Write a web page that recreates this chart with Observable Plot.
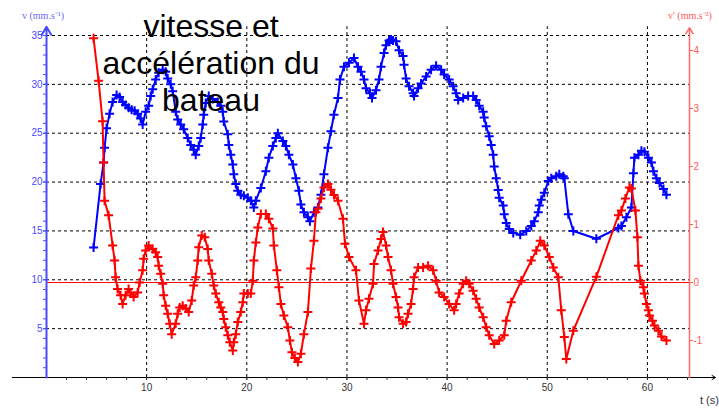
<!DOCTYPE html>
<html>
<head>
<meta charset="utf-8">
<script src="https://cdn.jsdelivr.net/npm/d3@7"></script>
<script src="https://cdn.jsdelivr.net/npm/@observablehq/plot@0.6"></script>
<style>
  html, body { margin: 0; padding: 0; background: #fff; }
  #wrap { position: relative; width: 719px; height: 409px; overflow: hidden; }
  #wrap svg { position: absolute; left: 0; top: 0; }
  .ov { position: absolute; white-space: nowrap; }
  #title { left: 61px; top: 8px; width: 300px; text-align: center; font: 32px/37px "Liberation Sans", Arial, sans-serif; color: #000; }
  #vlab { left: 22px; top: 8px; font: 10px "Liberation Serif", serif; color: #6a6aff; }
  #alab { left: 668px; top: 8px; font: 10px "Liberation Serif", serif; color: #ff5a5a; }
  #tlab { left: 700px; top: 394px; font: 11px "Liberation Sans", sans-serif; color: #333; }
</style>
</head>
<body>
<div id="wrap">
  <div id="title" class="ov">vitesse et<br>accélération du<br>bateau</div>
  <div id="vlab" class="ov">v (mm.s⁻¹)</div>
  <div id="alab" class="ov">v' (mm.s⁻²)</div>
  <div id="tlab" class="ov">t (s)</div>
</div>
<script>
// ---- speed v (mm/s), left axis ----
const tV = [4.7,5.4,5.7,5.8,6.0,6.3,6.6,7.0,7.3,7.6,7.9,8.2,8.5,8.8,9.1,9.4,9.6,9.9,10.2,10.4,10.6,10.9,11.2,11.6,11.9,12.1,12.4,12.6,12.9,13.1,13.4,13.7,14.1,14.4,14.7,14.9,15.2,15.4,15.6,15.7,15.9,16.2,16.6,17.1,17.4,17.6,17.7,18.1,18.2,18.4,18.6,18.7,18.9,19.1,19.4,19.7,20.1,20.4,20.7,20.9,21.4,21.9,22.2,22.6,22.9,23.1,23.6,23.9,24.2,24.6,24.9,25.2,25.4,25.7,26.1,26.3,26.7,27.1,27.4,27.7,28.1,28.4,28.7,29.1,29.3,29.7,30.2,30.7,31.1,31.4,31.7,31.9,32.3,32.5,32.9,33.2,33.4,33.7,33.9,34.2,34.4,34.6,34.9,35.2,35.6,35.7,35.9,36.2,36.6,36.7,37.1,37.4,37.9,38.4,38.9,39.4,39.7,40.2,40.6,40.9,41.1,41.6,42.1,42.6,42.9,43.2,43.6,43.7,43.9,44.2,44.4,44.6,44.7,44.9,45.1,45.2,45.6,45.7,45.9,46.2,46.6,47.3,47.9,48.4,48.7,49.1,49.2,49.4,49.7,50.1,50.4,50.9,51.2,51.6,51.7,52.1,52.6,54.9,57.1,57.4,57.9,58.4,58.6,58.7,59.1,59.4,59.7,60.1,60.4,60.6,60.9,61.2,61.6,61.9];
const vV = [13.3,19.8,22.0,23.5,25.5,27.0,28.2,28.9,28.7,28.2,27.9,27.6,27.4,27.3,27.0,26.5,25.9,27.2,27.8,28.8,29.5,30.5,31.2,31.5,31.3,30.6,30.0,29.3,27.2,26.4,25.9,25.4,24.5,23.8,23.3,22.8,23.7,24.5,25.9,26.9,28.1,28.8,28.5,28.2,27.8,27.2,26.2,24.9,23.8,22.8,21.8,20.8,19.8,19.1,18.7,18.6,18.4,18.1,17.4,18.1,19.4,21.1,22.5,23.7,24.5,25.0,24.2,23.7,22.8,21.8,20.4,19.1,17.7,16.9,16.4,16.0,16.9,17.4,18.7,20.8,23.5,25.2,26.9,28.6,30.5,31.8,32.2,32.7,31.8,31.3,30.5,29.6,29.1,28.6,29.4,30.5,31.8,33.2,34.0,34.5,34.6,34.5,34.4,33.5,32.9,32.0,30.6,29.8,29.1,28.8,29.6,30.1,30.8,31.5,31.9,31.5,31.0,30.5,29.8,29.1,28.4,28.6,28.8,28.8,28.4,27.8,27.2,26.6,25.7,24.7,23.8,22.8,21.6,20.4,19.2,18.4,17.6,16.7,15.8,15.2,14.8,14.6,15.0,15.5,16.0,16.9,17.6,18.2,18.9,20.1,20.4,20.6,20.8,20.6,20.4,16.7,15.0,14.2,15.3,15.5,16.4,17.4,20.9,22.5,22.8,23.2,23.1,22.5,22.0,21.1,20.4,19.9,19.3,18.7];

// ---- acceleration v' (mm/s^2), right axis ----
const tA = [4.7,5.2,5.6,5.7,5.8,6.2,6.6,6.8,6.9,7.1,7.4,7.6,7.9,8.2,8.4,8.7,9.1,9.3,9.6,9.7,9.9,10.2,10.6,10.9,11.1,11.2,11.4,11.6,11.7,11.9,12.1,12.3,12.5,12.9,13.1,13.3,13.6,13.9,14.2,14.5,14.7,14.9,15.1,15.2,15.5,15.8,16.1,16.2,16.5,16.7,16.9,17.2,17.4,17.6,17.7,17.9,18.1,18.3,18.6,18.7,18.9,19.1,19.4,19.6,19.7,20.1,20.4,20.6,20.7,20.9,21.1,21.4,21.9,22.2,22.6,22.7,23.0,23.2,23.4,23.7,24.1,24.3,24.5,24.8,25.1,25.4,25.7,26.1,26.4,26.7,26.9,27.1,27.4,27.7,28.1,28.4,28.7,29.1,29.6,29.8,30.2,30.9,31.2,31.7,31.9,32.2,32.6,32.7,33.1,33.4,33.6,33.9,34.1,34.4,34.6,34.9,35.1,35.2,35.6,35.9,36.1,36.4,36.6,36.7,37.1,37.6,38.1,38.6,38.9,39.2,39.7,40.2,40.7,40.9,41.2,41.6,41.9,42.2,42.6,42.9,43.2,43.6,43.9,44.2,44.7,45.2,45.7,45.9,46.4,47.4,48.4,48.9,49.3,49.7,50.2,50.6,51.1,51.4,51.7,51.9,52.6,54.9,57.1,57.4,57.8,58.2,58.4,58.8,59.0,59.1,59.3,59.6,59.7,59.9,60.1,60.2,60.5,60.7,61.1,61.4,61.9];
const aA = [4.21,3.48,2.78,2.07,1.41,1.16,0.64,0.38,0.09,-0.11,-0.22,-0.37,-0.22,-0.11,-0.17,-0.25,-0.17,0.0,0.21,0.41,0.55,0.64,0.58,0.52,0.44,0.29,0.15,-0.02,-0.22,-0.40,-0.54,-0.71,-0.89,-0.71,-0.54,-0.43,-0.40,-0.45,-0.51,-0.31,-0.05,0.09,0.38,0.61,0.81,0.78,0.58,0.38,0.15,-0.05,-0.19,-0.34,-0.43,-0.51,-0.63,-0.77,-0.91,-1.03,-1.17,-1.03,-0.89,-0.68,-0.51,-0.34,-0.19,-0.19,-0.19,0.03,0.38,0.69,0.95,1.18,1.18,1.10,0.93,0.64,0.21,-0.08,-0.37,-0.57,-0.77,-1.0,-1.2,-1.3,-1.37,-1.23,-0.89,-0.51,0.24,0.72,1.21,1.27,1.45,1.64,1.70,1.60,1.51,1.41,1.10,0.67,0.44,0.21,-0.31,-0.71,-0.48,-0.28,-0.02,0.32,0.55,0.75,0.87,0.64,0.44,0.21,-0.02,-0.25,-0.43,-0.60,-0.71,-0.68,-0.54,-0.37,-0.11,0.09,0.26,0.26,0.29,0.21,0.03,-0.17,-0.25,-0.37,-0.48,-0.37,-0.19,-0.02,0.03,-0.02,-0.14,-0.28,-0.43,-0.60,-0.77,-0.91,-1.06,-1.00,-0.91,-0.66,-0.34,0.03,0.38,0.55,0.72,0.64,0.44,0.26,0.09,-0.48,-0.94,-1.32,-0.83,0.10,1.16,1.24,1.45,1.64,1.62,1.24,0.78,0.29,0.03,-0.08,-0.19,-0.37,-0.48,-0.57,-0.66,-0.74,-0.83,-0.93,-1.00];

// ---- tick values ----
const tMajor = [10, 20, 30, 40, 50, 60];
const tMinor = [2,4,6,8,10,12,14,16,18,20,22,24,26,28,30,32,34,36,38,40,42,44,46,48,50,52,54,56,58,60,62,64];
const vMajor = [5, 10, 15, 20, 25, 30, 35];
const vMinor = [1,2,3,4,5,6,7,8,9,10,11,12,13,14,15,16,17,18,19,20,21,22,23,24,25,26,27,28,29,30,31,32,33,34,35];
const aTicks = [-1, 0, 1, 2, 3, 4];

// right axis (v') mapped onto the left (v) scale
const aToV = d3.scaleLinear().domain([0, 1]).range([9.72, 15.656]);

const speed = tV.map((t, i) => ({t, v: vV[i]}));
const accel = tA.map((t, i) => ({t, a: aA[i]}));

const BLUE = "#0000ff", RED = "#ff0000";
const plus = {draw(ctx) { const r = 4.5; ctx.moveTo(-r, 0); ctx.lineTo(r, 0); ctx.moveTo(0, -r); ctx.lineTo(0, r); }};

const chart = Plot.plot({
  width: 719, height: 409,
  marginLeft: 46, marginRight: 30, marginTop: 35, marginBottom: 32,
  style: {fontFamily: "Liberation Sans, Arial, sans-serif", fontSize: "10px", background: "transparent"},
  x: {domain: [0, 64.2]},
  y: {domain: [0, 35]},
  marks: [
    // grid
    Plot.ruleX(tMajor, {x: d => d, y1: 0, y2: 35.9, stroke: "#000", strokeWidth: 1, strokeDasharray: "3,3"}),
    Plot.ruleY(vMajor, {y: d => d, x1: 0, x2: 64.2, stroke: "#000", strokeWidth: 1, strokeDasharray: "3,3"}),
    Plot.ruleY([0], {y: d => aToV(d), x1: 0, x2: 64.2, stroke: RED, strokeWidth: 1}),
    // axes lines
    Plot.arrow([0], {x1: -3.4, x2: 66.8, y1: d => d, y2: d => d, stroke: "#000", strokeWidth: 1, headLength: 6}),
    Plot.arrow([0], {x1: d => d, x2: d => d, y1: 0, y2: 35.9, stroke: "#4a4aff", strokeWidth: 2, headLength: 7}),
    Plot.arrow([64.2], {x1: d => d, x2: d => d, y1: 0, y2: 35.8, stroke: "#ff6a6a", strokeWidth: 1.5, headLength: 7}),
    // ticks
    Plot.axisX({ticks: tMinor, tickFormat: () => "", tickSize: 3, label: null, color: "#333"}),
    Plot.axisX({ticks: tMajor, tickSize: 3, tickPadding: 3, label: null, color: "#333"}),
    Plot.axisY({ticks: vMinor, tickFormat: () => "", tickSize: 3, anchor: "left", label: null, color: "#4a4aff"}),
    Plot.axisY({ticks: vMajor, tickSize: 3, tickPadding: 1, anchor: "left", label: null, color: "#4a4aff"}),
    Plot.axisY({ticks: aTicks.map(a => aToV(a)), tickFormat: v => String(Math.round(aToV.invert(v))), tickSize: 3, tickPadding: 1, anchor: "right", label: null, color: "#ff5a5a"}),
    // data
    Plot.line(speed, {x: "t", y: "v", stroke: BLUE, strokeWidth: 2}),
    Plot.dot(speed, {x: "t", y: "v", symbol: plus, stroke: BLUE, fill: "none", strokeWidth: 2}),
    Plot.line(accel, {x: "t", y: d => aToV(d.a), stroke: RED, strokeWidth: 2}),
    Plot.dot(accel, {x: "t", y: d => aToV(d.a), symbol: plus, stroke: RED, fill: "none", strokeWidth: 2})
  ]
});
document.getElementById("wrap").prepend(chart);
</script>
</body>
</html>
